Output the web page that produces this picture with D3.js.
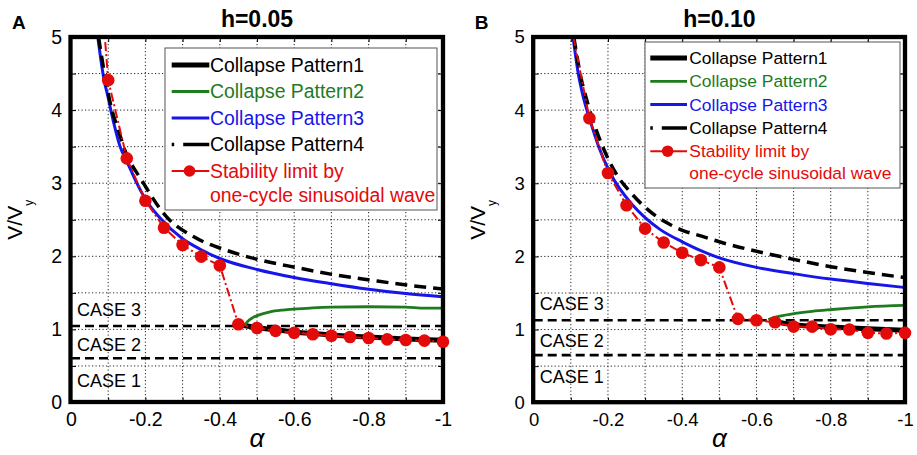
<!DOCTYPE html>
<html>
<head>
<meta charset="utf-8">
<script src="https://cdn.jsdelivr.net/npm/d3@7"></script>
<style>
  body { margin: 0; background: #fff; }
  svg { display: block; }
  text { font-family: "Liberation Sans", Arial, sans-serif; }
</style>
</head>
<body>
<svg id="chart" width="917" height="455"></svg>
<script>
// ---- axis ticks and labels ----
const alphaTicks  = [0, -0.1, -0.2, -0.3, -0.4, -0.5, -0.6, -0.7, -0.8, -0.9, -1.0];
const alphaLabels = ["0", "", "-0.2", "", "-0.4", "", "-0.6", "", "-0.8", "", "-1"];
const vTicks  = [0, 0.5, 1, 1.5, 2, 2.5, 3, 3.5, 4, 4.5, 5];
const vLabels = ["0", "", "1", "", "2", "", "3", "", "4", "", "5"];

// ---- legend / case text ----
const legendLabels = ["Collapse Pattern1", "Collapse Pattern2", "Collapse Pattern3", "Collapse Pattern4"];
const stabilityLabel = ["Stability limit by", "one-cycle sinusoidal wave"];
const caseLabels = ["CASE 3", "CASE 2", "CASE 1"];

// ---- h = 0.05 : [alpha, V/Vy] ----
const pattern1A = [[-0.455, 1.06], [-0.5, 1.025], [-0.6, 0.965], [-0.7, 0.925], [-0.8, 0.895], [-0.9, 0.87], [-1.0, 0.85]];
const pattern2A = [[-0.466, 1.05], [-0.475, 1.11], [-0.49, 1.165], [-0.51, 1.205], [-0.535, 1.24], [-0.57, 1.265],
                   [-0.607, 1.28], [-0.65, 1.295], [-0.7, 1.305], [-0.8, 1.31], [-0.9, 1.305], [-0.95, 1.29], [-1.0, 1.29]];
const pattern3A = [[-0.072, 5.0], [-0.08, 4.7], [-0.089, 4.41], [-0.1, 4.17], [-0.107, 4.0], [-0.12, 3.72], [-0.132, 3.5],
                   [-0.15, 3.3], [-0.177, 3.0], [-0.2, 2.78], [-0.24, 2.52], [-0.3, 2.24], [-0.35, 2.09], [-0.4, 1.97],
                   [-0.5, 1.82], [-0.6, 1.71], [-0.7, 1.625], [-0.8, 1.55], [-0.9, 1.49], [-1.0, 1.445]];
const pattern4A = [[-0.074, 5.0], [-0.09, 4.5], [-0.11, 4.0], [-0.127, 3.73], [-0.145, 3.45], [-0.19, 3.04], [-0.257, 2.54],
                   [-0.329, 2.27], [-0.419, 2.08], [-0.508, 1.95], [-0.607, 1.845], [-0.705, 1.75], [-0.804, 1.676],
                   [-0.902, 1.607], [-1.0, 1.553]];
const stabilityStartA = [-0.092, 4.93];
const stabilityA = [[-0.10, 4.41], [-0.15, 3.34], [-0.20, 2.76], [-0.25, 2.39], [-0.30, 2.155], [-0.35, 1.995],
                    [-0.40, 1.875], [-0.45, 1.07], [-0.50, 1.02], [-0.55, 0.98], [-0.60, 0.955], [-0.65, 0.933],
                    [-0.70, 0.914], [-0.75, 0.896], [-0.80, 0.882], [-0.85, 0.864], [-0.90, 0.855], [-0.95, 0.846],
                    [-1.00, 0.832]];
const caseLevelsA = [1.046, 0.605];

// ---- h = 0.10 : [alpha, V/Vy] ----
const pattern1B = [[-0.635, 1.128], [-0.65, 1.11], [-0.7, 1.065], [-0.8, 1.035], [-0.9, 1.01], [-1.0, 0.99]];
const pattern2B = [[-0.632, 1.135], [-0.645, 1.16], [-0.663, 1.183], [-0.704, 1.22], [-0.75, 1.25], [-0.804, 1.274],
                   [-0.9, 1.31], [-1.0, 1.33]];
const pattern3B = [[-0.106, 5.0], [-0.12, 4.5], [-0.135, 4.15], [-0.15, 3.89], [-0.175, 3.5], [-0.206, 3.14],
                   [-0.267, 2.70], [-0.3, 2.53], [-0.34, 2.37], [-0.4, 2.2], [-0.5, 1.98], [-0.6, 1.85], [-0.7, 1.765],
                   [-0.8, 1.69], [-0.9, 1.63], [-1.0, 1.575]];
const pattern4B = [[-0.108, 5.0], [-0.125, 4.5], [-0.145, 4.1], [-0.169, 3.72], [-0.2, 3.34], [-0.222, 3.13],
                   [-0.26, 2.88], [-0.294, 2.70], [-0.33, 2.55], [-0.366, 2.44], [-0.404, 2.35], [-0.45, 2.28],
                   [-0.5, 2.2], [-0.6, 2.07], [-0.7, 1.96], [-0.8, 1.86], [-0.9, 1.78], [-1.0, 1.71]];
const stabilityStartB = [-0.107, 5.0];
const stabilityB = [[-0.15, 3.89], [-0.20, 3.14], [-0.25, 2.70], [-0.30, 2.38], [-0.35, 2.19], [-0.40, 2.05],
                    [-0.45, 1.95], [-0.50, 1.85], [-0.55, 1.146], [-0.60, 1.128], [-0.65, 1.10], [-0.70, 1.04],
                    [-0.75, 1.04], [-0.80, 1.005], [-0.85, 1.0], [-0.90, 0.955], [-0.95, 0.947], [-1.00, 0.955]];
const caseLevelsB = [1.128, 0.65];

// ---- colours ----
const GREEN = "#1e7b1e", BLUE = "#1616e8", RED = "#e30a0a";

const panels = [
  { letter: "A", title: "h=0.05", left: 71, right: 443, top: 37, bottom: 402.5, tickFont: 19.5,
    legend: { x: 165, y: 48, w: 272, h: 162, first: 17, row: 26.5, font: 19.4, s0: 6.7, s1: 44.3, tx: 45 },
    p1: pattern1A, p2: pattern2A, p3: pattern3A, p4: pattern4A,
    start: stabilityStartA, pts: stabilityA, cases: caseLevelsA },
  { letter: "B", title: "h=0.10", left: 533.7, right: 905, top: 37, bottom: 402.7, tickFont: 18.5,
    legend: { x: 645, y: 42, w: 255, h: 146, first: 16, row: 23.3, font: 17.4, s0: 5.3, s1: 42, tx: 44.3 },
    p1: pattern1B, p2: pattern2B, p3: pattern3B, p4: pattern4B,
    start: stabilityStartB, pts: stabilityB, cases: caseLevelsB }
];

const svg = d3.select("#chart");

panels.forEach((P, pi) => {
  const x = d3.scaleLinear().domain([0, -1]).range([P.left, P.right]);
  const y = d3.scaleLinear().domain([0, 5]).range([P.bottom, P.top]);
  const g = svg.append("g");
  const cx = (P.left + P.right) / 2, cy = (P.top + P.bottom) / 2;

  // panel letter and title
  g.append("text").attr("x", P.left - 59).attr("y", 29).attr("font-size", 19).attr("font-weight", "bold")
    .text(P.letter);
  g.append("text").attr("x", cx).attr("y", 27).attr("text-anchor", "middle").attr("font-size", 23)
    .attr("font-weight", "bold").text(P.title);

  // dotted grid
  g.append("g").selectAll("line").data(alphaTicks.filter(a => a !== 0 && a !== -1.0)).join("line")
    .attr("x1", d => x(d)).attr("x2", d => x(d)).attr("y1", P.top).attr("y2", P.bottom)
    .attr("stroke", "#222").attr("stroke-width", 1).attr("stroke-dasharray", "1.2,2.3");
  g.append("g").selectAll("line").data(vTicks.filter(v => v !== 0 && v !== 5)).join("line")
    .attr("y1", d => y(d)).attr("y2", d => y(d)).attr("x1", P.left).attr("x2", P.right)
    .attr("stroke", "#222").attr("stroke-width", 1).attr("stroke-dasharray", "1.2,2.3");

  // case boundaries
  g.append("g").selectAll("line").data(P.cases).join("line")
    .attr("x1", P.left).attr("x2", P.right).attr("y1", d => y(d)).attr("y2", d => y(d))
    .attr("stroke", "#000").attr("stroke-width", 2.6).attr("stroke-dasharray", "9,5");

  const upper = y(P.cases[0]), lower = y(P.cases[1]);
  const caseY = [upper - 16, (upper + lower) / 2 + 3, lower + 22];
  g.append("g").selectAll("text").data(caseLabels).join("text")
    .attr("x", P.left + 6).attr("y", (d, i) => caseY[i]).attr("dy", "0.35em")
    .attr("font-size", 18).text(d => d);

  // curves, clipped to the plot box
  const clipId = "clip" + pi;
  svg.append("clipPath").attr("id", clipId).append("rect")
    .attr("x", P.left).attr("y", P.top).attr("width", P.right - P.left).attr("height", P.bottom - P.top);
  const curves = g.append("g").attr("clip-path", `url(#${clipId})`);
  const smooth = d3.line().x(d => x(d[0])).y(d => y(d[1])).curve(d3.curveMonotoneX);
  const straight = d3.line().x(d => x(d[0])).y(d => y(d[1]));

  curves.append("path").attr("d", smooth(P.p1)).attr("fill", "none").attr("stroke", "#000").attr("stroke-width", 5);
  curves.append("path").attr("d", smooth(P.p2)).attr("fill", "none").attr("stroke", GREEN).attr("stroke-width", 2.8);
  curves.append("path").attr("d", smooth(P.p3)).attr("fill", "none").attr("stroke", BLUE).attr("stroke-width", 3);
  curves.append("path").attr("d", smooth(P.p4)).attr("fill", "none").attr("stroke", "#000").attr("stroke-width", 3.5)
    .attr("stroke-dasharray", "12,7");
  curves.append("path").attr("d", straight([P.start, ...P.pts])).attr("fill", "none").attr("stroke", RED)
    .attr("stroke-width", 2).attr("stroke-dasharray", "9,3,2,3");

  // axes with inward ticks
  const styleAxis = sel => {
    sel.select(".domain").remove();
    sel.selectAll(".tick line").attr("stroke", "#000");
    sel.selectAll("text").attr("fill", "#000").attr("font-family", '"Liberation Sans", Arial, sans-serif')
      .attr("font-size", P.tickFont);
  };
  g.append("g").attr("transform", `translate(0,${P.bottom})`)
    .call(d3.axisBottom(x).tickValues(alphaTicks).tickSize(-5).tickPadding(10)
      .tickFormat((d, i) => alphaLabels[i])).call(styleAxis);
  g.append("g").attr("transform", `translate(0,${P.top})`)
    .call(d3.axisTop(x).tickValues(alphaTicks).tickSize(-5).tickFormat("")).call(styleAxis);
  g.append("g").attr("transform", `translate(${P.left},0)`)
    .call(d3.axisLeft(y).tickValues(vTicks).tickSize(-5).tickPadding(9)
      .tickFormat((d, i) => vLabels[i])).call(styleAxis);
  g.append("g").attr("transform", `translate(${P.right},0)`)
    .call(d3.axisRight(y).tickValues(vTicks).tickSize(-5).tickFormat("")).call(styleAxis);

  // heavy frame
  g.append("rect").attr("x", P.left - 0.5).attr("y", P.top).attr("width", P.right - P.left + 0.5)
    .attr("height", P.bottom - P.top - 0.5).attr("fill", "none").attr("stroke", "#000").attr("stroke-width", 4.3);

  // stability-limit markers
  g.append("g").selectAll("circle").data(P.pts).join("circle")
    .attr("cx", d => x(d[0])).attr("cy", d => y(d[1])).attr("r", 6.3).attr("fill", RED);

  // axis titles
  g.append("text").attr("x", cx).attr("y", 447).attr("text-anchor", "middle")
    .attr("font-family", '"Liberation Serif", "DejaVu Serif", serif').attr("font-style", "italic")
    .attr("font-size", 26).text("α");
  const yl = g.append("text").attr("transform", `translate(${P.left - 49},${cy}) rotate(-90)`)
    .attr("text-anchor", "middle").attr("font-size", 21);
  yl.append("tspan").text("V/V");
  yl.append("tspan").attr("font-size", 12).attr("dy", 11).text("y");

  // legend
  const L = P.legend;
  const lg = g.append("g").attr("transform", `translate(${L.x},${L.y})`);
  lg.append("rect").attr("width", L.w).attr("height", L.h).attr("fill", "#fff")
    .attr("stroke", "#555").attr("stroke-width", 1);
  const legendStyles = [
    { color: "#000", width: 5, dash: null, textColor: "#000" },
    { color: GREEN, width: 2.8, dash: null, textColor: GREEN },
    { color: BLUE, width: 3, dash: null, textColor: BLUE },
    { color: "#000", width: 3.5, dash: "2.5,9,40", textColor: "#000" }
  ];
  legendLabels.forEach((lab, i) => {
    const ry = L.first + i * L.row;
    const s = legendStyles[i];
    lg.append("line").attr("x1", L.s0).attr("x2", L.s1).attr("y1", ry).attr("y2", ry)
      .attr("stroke", s.color).attr("stroke-width", s.width).attr("stroke-dasharray", s.dash);
    lg.append("text").attr("x", L.tx).attr("y", ry).attr("dy", "0.35em").attr("font-size", L.font)
      .attr("fill", s.textColor).text(lab);
  });
  const ry = L.first + 4 * L.row;
  lg.append("line").attr("x1", L.s0).attr("x2", L.s1).attr("y1", ry).attr("y2", ry)
    .attr("stroke", RED).attr("stroke-width", 2);
  lg.append("circle").attr("cx", (L.s0 + L.s1) / 2 - 1).attr("cy", ry).attr("r", 5.8).attr("fill", RED);
  stabilityLabel.forEach((t, j) => {
    lg.append("text").attr("x", L.tx).attr("y", ry + j * L.row * 0.92).attr("dy", "0.35em")
      .attr("font-size", L.font).attr("fill", RED).text(t);
  });
});
</script>
</body>
</html>
